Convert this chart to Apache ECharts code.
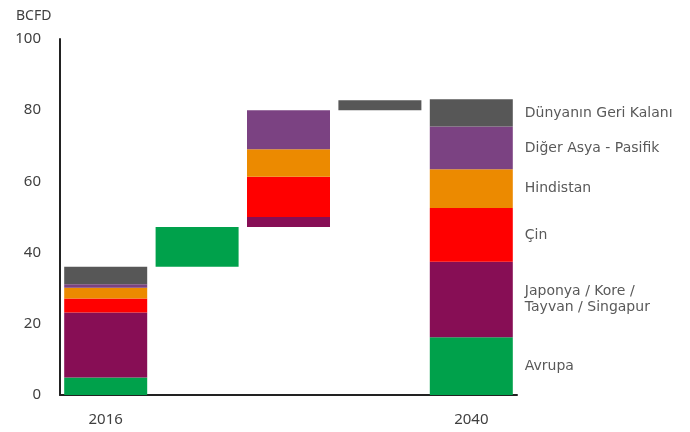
<!DOCTYPE html>
<html>
<head>
<meta charset="utf-8">
<script src="https://cdn.jsdelivr.net/npm/echarts@6/dist/echarts.min.js"></script>
<style>html,body{margin:0;padding:0;background:#fff;}#c{width:690px;height:432px;}</style>
</head>
<body>
<div id="c"></div>
<script>
// ---- data ----
const categories = ['2016', 'Avrupa', 'Asya', 'Dünya', '2040'];
const xTickLabels = ['2016', '', '', '', '2040'];
const regions = ['Avrupa', 'Japonya / Kore / Tayvan / Singapur', 'Çin', 'Hindistan', 'Diğer Asya - Pasifik', 'Dünyanın Geri Kalanı'];
const regionLabels = ['Avrupa', 'Japonya / Kore /\nTayvan / Singapur', 'Çin', 'Hindistan', 'Diğer Asya - Pasifik', 'Dünyanın Geri Kalanı'];
const v2016 = [4.9, 18.3, 3.9, 3.0, 1.0, 4.9];
const change = [11.2, 2.8, 11.3, 7.7, 11.0, 2.8];
const changeColumn = [1, 2, 2, 2, 2, 3];
const v2040 = [16.2, 21.2, 15.1, 10.9, 12.0, 7.7];
const yTicks = [0, 20, 40, 60, 80, 100];

// ---- styles ----
const colors = ['#00A14B', '#870E55', '#FF0000', '#EC8A00', '#7B4282', '#575757'];
const textColor = '#404040';

// build waterfall base (invisible) values
const base = [0, 0, 0, 0, 0];
let running = v2016.reduce((a, b) => a + b, 0);
for (let col = 1; col <= 3; col++) {
  base[col] = running;
  regions.forEach((r, i) => { if (changeColumn[i] === col) running += change[i]; });
}

const series = [{
  name: 'base', type: 'bar', stack: 'w', barWidth: 83, silent: true,
  itemStyle: { color: 'rgba(0,0,0,0)' }, data: base
}];
regions.forEach((r, i) => {
  const data = categories.map((c, col) => {
    if (col === 0) return v2016[i];
    if (col === 4) return {
      value: v2040[i],
      label: {
        show: true, position: 'right', distance: 12, formatter: regionLabels[i],
        color: '#595959', fontSize: 14, fontFamily: 'DejaVu Sans', lineHeight: 16
      }
    };
    return changeColumn[i] === col ? change[i] : 0;
  });
  series.push({
    name: r, type: 'bar', stack: 'w', barWidth: 83,
    itemStyle: { color: colors[i] }, data
  });
});

const chart = echarts.init(document.getElementById('c'));
chart.setOption({
  animation: false,
  title: { text: 'BCFD', left: 11, top: 4, textStyle: { fontSize: 14, fontWeight: 'normal', color: textColor, fontFamily: 'Noto Sans' } },
  grid: { left: 60, right: 173, top: 39, bottom: 37 },
  xAxis: {
    type: 'category', data: categories,
    axisLine: { lineStyle: { color: '#222', width: 2 } },
    axisTick: { show: false },
    axisLabel: { formatter: (v, idx) => xTickLabels[idx], color: textColor, fontSize: 15, margin: 17, fontFamily: 'Noto Sans', interval: 0 }
  },
  yAxis: {
    type: 'value', min: yTicks[0], max: yTicks[yTicks.length - 1], interval: yTicks[1] - yTicks[0],
    axisLine: { show: true, lineStyle: { color: '#222', width: 2 } },
    axisTick: { show: false },
    splitLine: { show: false },
    axisLabel: { color: textColor, fontSize: 15, margin: 19, fontFamily: 'Noto Sans' }
  },
  series
});
</script>
</body>
</html>
